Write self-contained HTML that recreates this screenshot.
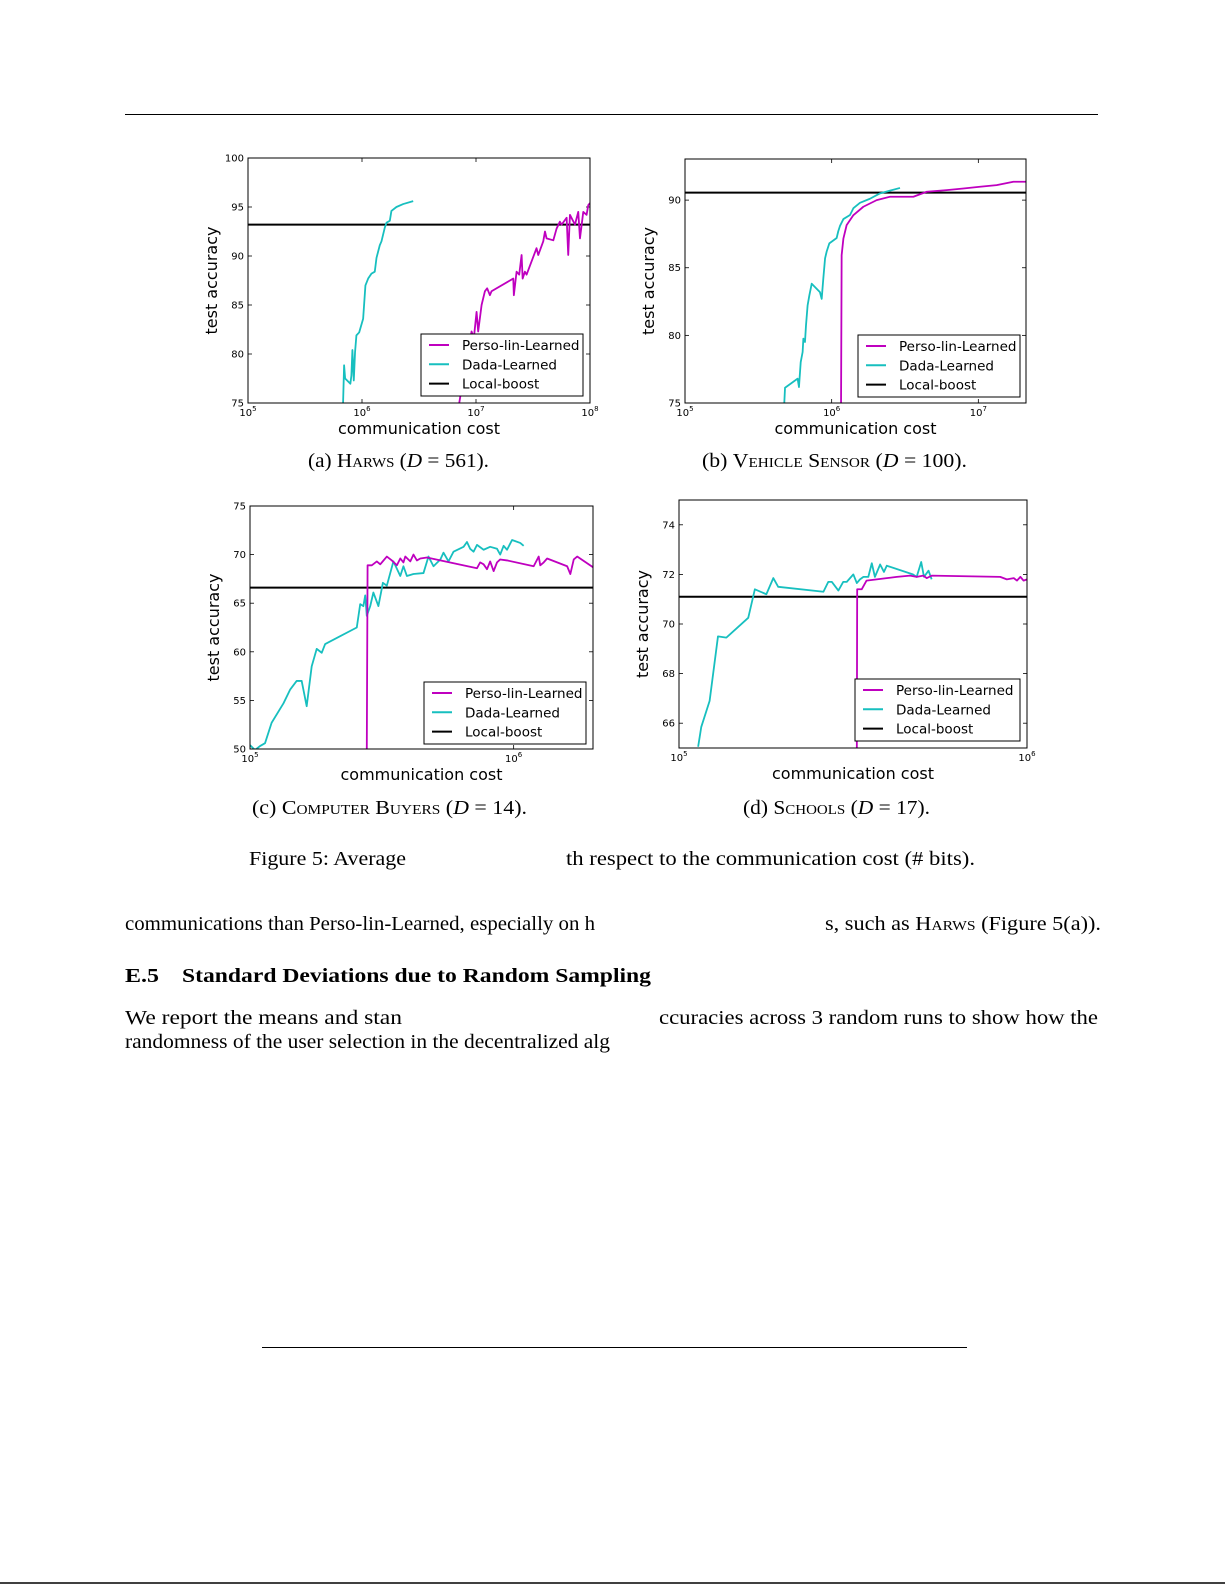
<!DOCTYPE html>
<html><head><meta charset="utf-8"><style>
html,body{margin:0;padding:0;background:#fff;}
svg{display:block;}
.tk{font-family:"DejaVu Sans","Liberation Sans",sans-serif;font-size:10px;fill:#000;}
.al{font-family:"DejaVu Sans","Liberation Sans",sans-serif;font-size:16px;fill:#000;}
.lg{font-family:"DejaVu Sans","Liberation Sans",sans-serif;font-size:13.5px;fill:#000;}
.tx{font-family:"Liberation Serif",serif;font-size:20px;fill:#000;}
</style></head><body>
<svg id="page" width="1225" height="1585" viewBox="0 0 1225 1585" xmlns="http://www.w3.org/2000/svg">
<line x1="125" y1="114.5" x2="1098" y2="114.5" stroke="#000" stroke-width="1"/>
<text class="tx" x="308" y="467" textLength="181" lengthAdjust="spacingAndGlyphs">(a) <tspan font-variant="small-caps">Harws</tspan> (<tspan font-style="italic">D</tspan> = 561).</text>
<text class="tx" x="702" y="467" textLength="265" lengthAdjust="spacingAndGlyphs">(b) <tspan font-variant="small-caps">Vehicle Sensor</tspan> (<tspan font-style="italic">D</tspan> = 100).</text>
<text class="tx" x="252" y="814" textLength="275" lengthAdjust="spacingAndGlyphs">(c) <tspan font-variant="small-caps">Computer Buyers</tspan> (<tspan font-style="italic">D</tspan> = 14).</text>
<text class="tx" x="743" y="814" textLength="187" lengthAdjust="spacingAndGlyphs">(d) <tspan font-variant="small-caps">Schools</tspan> (<tspan font-style="italic">D</tspan> = 17).</text>
<text class="tx" x="249" y="865" textLength="157" lengthAdjust="spacingAndGlyphs">Figure 5: Average</text>
<text class="tx" x="566" y="865" textLength="409" lengthAdjust="spacingAndGlyphs">th respect to the communication cost (# bits).</text>
<text class="tx" x="125" y="930" textLength="470" lengthAdjust="spacingAndGlyphs">communications than Perso-lin-Learned, especially on h</text>
<text class="tx" x="825" y="930" textLength="276" lengthAdjust="spacingAndGlyphs">s, such as <tspan font-variant="small-caps">Harws</tspan> (Figure 5(a)).</text>
<text class="tx" x="125" y="982" font-weight="bold" textLength="34" lengthAdjust="spacingAndGlyphs">E.5</text>
<text class="tx" x="182" y="982" font-weight="bold" textLength="469" lengthAdjust="spacingAndGlyphs">Standard Deviations due to Random Sampling</text>
<text class="tx" x="125" y="1024" textLength="277" lengthAdjust="spacingAndGlyphs">We report the means and stan</text>
<text class="tx" x="659" y="1024" textLength="439" lengthAdjust="spacingAndGlyphs">ccuracies across 3 random runs to show how the</text>
<text class="tx" x="125" y="1048" textLength="485" lengthAdjust="spacingAndGlyphs">randomness of the user selection in the decentralized alg</text>
<line x1="262" y1="1347.5" x2="967" y2="1347.5" stroke="#000" stroke-width="1"/>
<line x1="0" y1="1583" x2="1225" y2="1583" stroke="#000" stroke-width="1.5"/>
</svg>
<script>
// ---- data: chart a (Harws) ----
const aDadaX=[5.834,5.843,5.852,5.898,5.907,5.916,5.928,5.939,5.951,5.975,6.010,6.030,6.054,6.083,6.112,6.127,6.156,6.171,6.200,6.215,6.244,6.258,6.302,6.361,6.449];
const aDadaY=[75,78.85,77.5,76.97,77.8,80.4,77.3,80.2,81.9,82.2,83.6,87.0,87.7,88.2,88.4,89.8,91.1,91.5,92.9,93.4,93.6,94.6,95.0,95.3,95.6];
const aPersoX=[6.853,6.888,6.917,6.961,6.981,7.005,7.019,7.049,7.078,7.098,7.122,7.136,7.327,7.332,7.356,7.379,7.400,7.409,7.429,7.444,7.531,7.546,7.590,7.605,7.619,7.678,7.707,7.736,7.751,7.795,7.809,7.824,7.868,7.897,7.912,7.941,7.970,7.985,8.0];
const aPersoY=[75,77.5,79.2,82.3,81.6,84.3,82.3,85.0,86.4,86.7,86.0,86.4,87.7,86.0,88.4,88.1,90.1,87.7,88.4,88.1,90.8,90.1,91.5,92.5,91.8,91.6,92.8,93.5,93.2,93.9,90.1,94.2,93.2,94.5,91.8,94.5,94.2,95.2,95.4];
const aLocal=[93.2];
const aYTicks=[75,80,85,90,95,100];
const aXTicks=[5,6,7,8];
// ---- data: chart b (Vehicle Sensor) ----
const bDadaX=[5.677,5.682,5.768,5.777,5.789,5.802,5.807,5.818,5.825,5.836,5.848,5.864,5.920,5.932,5.943,5.955,5.966,5.984,6.034,6.045,6.057,6.080,6.125,6.148,6.193,6.261,6.330,6.398,6.466];
const bDadaY=[75,76.13,76.8,76.18,78.03,78.77,79.76,79.51,80.74,82.22,82.96,83.82,83.2,82.7,84.2,85.7,86.2,86.8,87.2,87.7,88.1,88.6,88.9,89.4,89.8,90.1,90.5,90.7,90.9];
const bPersoX=[6.064,6.068,6.080,6.102,6.148,6.216,6.307,6.398,6.557,6.648,6.784,6.898,7.011,7.125,7.239,7.325];
const bPersoY=[75,85.93,87.16,88.15,88.89,89.51,90.0,90.25,90.25,90.62,90.74,90.86,90.99,91.11,91.36,91.36];
const bLocal=[90.55];
const bYTicks=[75,80,85,90];
const bXTicks=[5,6,7];
// ---- data: chart c (Computer Buyers) ----
const cDadaX=[5.000,5.019,5.038,5.057,5.082,5.127,5.152,5.177,5.196,5.215,5.234,5.253,5.272,5.285,5.405,5.418,5.430,5.437,5.443,5.456,5.468,5.487,5.504,5.519,5.544,5.570,5.582,5.595,5.620,5.658,5.677,5.696,5.722,5.734,5.753,5.772,5.810,5.823,5.835,5.848,5.861,5.886,5.911,5.937,5.949,5.962,5.975,5.994,6.025,6.038];
const cDadaY=[50.4,49.9,50.3,50.6,52.7,54.7,56.1,57.0,57.0,54.4,58.5,60.3,59.9,60.8,62.5,64.9,64.7,65.8,63.7,64.7,66.1,64.7,67.1,66.8,69.3,67.8,68.8,67.8,68.0,68.1,69.8,68.8,69.5,70.2,69.3,70.3,70.8,71.3,70.6,70.3,71.0,70.5,70.8,70.6,70.0,70.9,70.5,71.5,71.2,70.9];
const cPersoX=[5.443,5.446,5.462,5.481,5.494,5.519,5.538,5.557,5.570,5.582,5.589,5.608,5.620,5.633,5.646,5.671,5.861,5.873,5.886,5.899,5.911,5.924,5.937,5.949,5.975,6.076,6.095,6.101,6.114,6.127,6.203,6.215,6.228,6.241,6.301];
const cPersoY=[50,68.9,68.9,69.3,69.0,69.8,69.4,68.9,69.6,69.2,69.8,69.3,70.0,69.4,69.6,69.7,68.6,69.2,69.0,68.5,69.3,68.3,69.2,69.5,69.4,68.8,69.8,68.9,69.2,69.6,68.8,68.0,69.5,69.8,68.7];
const cLocal=[66.6];
const cYTicks=[50,55,60,65,70,75];
const cXTicks=[5,6];
// ---- data: chart d (Schools) ----
const dDadaX=[5.055,5.064,5.088,5.112,5.136,5.199,5.218,5.251,5.271,5.285,5.415,5.429,5.439,5.458,5.472,5.482,5.501,5.511,5.520,5.530,5.544,5.554,5.563,5.578,5.589,5.597,5.672,5.683,5.696,5.704,5.717,5.726];
const dDadaY=[65.05,65.85,66.9,69.5,69.45,70.25,71.4,71.2,71.85,71.5,71.3,71.7,71.7,71.35,71.7,71.7,72.0,71.65,71.8,71.9,71.9,72.45,71.9,72.4,72.1,72.35,72.0,71.9,72.5,71.9,72.15,71.8];
const dPersoX=[5.511,5.512,5.525,5.539,5.568,5.597,5.626,5.664,5.683,5.702,5.712,5.726,5.923,5.942,5.962,5.971,5.981,5.990,6.0];
const dPersoY=[65.0,71.4,71.4,71.75,71.8,71.85,71.9,71.95,71.9,71.95,71.85,71.95,71.9,71.8,71.85,71.75,71.9,71.75,71.8];
const dLocal=[71.1];
const dYTicks=[66,68,70,72,74];
const dXTicks=[5,6];

const NS='http://www.w3.org/2000/svg';
const svg=document.getElementById('page');
function mk(tag,attrs,parent){const e=document.createElementNS(NS,tag);for(const k in attrs)e.setAttribute(k,attrs[k]);(parent||svg).appendChild(e);return e;}

const charts=[
 {id:'a',L:248,R:590,T:158,B:403,x0:5,x1:8,y0:75,y1:100,yt:aYTicks,xt:aXTicks,dx:aDadaX,dy:aDadaY,px:aPersoX,py:aPersoY,loc:aLocal,lg:[421,334],lgw:162},
 {id:'b',L:685,R:1026,T:159,B:403,x0:5,x1:7.325,y0:75,y1:93.04,yt:bYTicks,xt:bXTicks,dx:bDadaX,dy:bDadaY,px:bPersoX,py:bPersoY,loc:bLocal,lg:[858,335],lgw:162},
 {id:'c',L:250,R:593,T:506,B:749,x0:5,x1:6.301,y0:50,y1:75,yt:cYTicks,xt:cXTicks,dx:cDadaX,dy:cDadaY,px:cPersoX,py:cPersoY,loc:cLocal,lg:[424,682],lgw:162},
 {id:'d',L:679,R:1027,T:500,B:748,x0:5,x1:6,y0:65,y1:75,yt:dYTicks,xt:dXTicks,dx:dDadaX,dy:dDadaY,px:dPersoX,py:dPersoY,loc:dLocal,lg:[855,679],lgw:165}
];

charts.forEach(c=>{
 const sx=v=>c.L+(v-c.x0)/(c.x1-c.x0)*(c.R-c.L);
 const sy=v=>c.B-(v-c.y0)/(c.y1-c.y0)*(c.B-c.T);
 const g=mk('g',{});
 
 
 const cp=mk('clipPath',{id:'clip'+c.id},g);
 mk('rect',{x:c.L,y:c.T,width:c.R-c.L,height:c.B-c.T},cp);
 c.yt.forEach(v=>{
  const y=sy(v);
  const t1=mk('line',{x1:c.L,y1:y,x2:c.L+4,y2:y,stroke:'#000','stroke-width':0.8},g);
  
  
  mk('line',{x1:c.R,y1:y,x2:c.R-4,y2:y,stroke:'#000','stroke-width':0.8},g);
  const tl=mk('text',{x:c.L-4,y:y+3.5,'text-anchor':'end',class:'tk'},g);
  tl.textContent=String(v);
  
  
 });
 c.xt.forEach(v=>{
  const x=sx(v);
  mk('line',{x1:x,y1:c.B,x2:x,y2:c.B-4,stroke:'#000','stroke-width':0.8},g);
  mk('line',{x1:x,y1:c.T,x2:x,y2:c.T+4,stroke:'#000','stroke-width':0.8},g);
  const tl=mk('text',{x:x,y:c.B+13,'text-anchor':'middle',class:'tk'},g);
  tl.innerHTML='10<tspan dy="-5" font-size="7">'+v+'</tspan>';
  
  
 });
 const path=(xs,ys)=>xs.map((v,i)=>(i?'L':'M')+sx(v).toFixed(2)+','+sy(ys[i]).toFixed(2)).join(' ');
 const lb=mk('line',{x1:c.L,y1:sy(c.loc[0]),x2:c.R,y2:sy(c.loc[0]),stroke:'#000','stroke-width':2,'clip-path':'url(#clip'+c.id+')'},g);
 
 
 const pd=mk('path',{d:path(c.dx,c.dy),fill:'none',stroke:'#17bfbf','stroke-width':1.8,'stroke-linejoin':'round','clip-path':'url(#clip'+c.id+')'},g);
 
 
 const pp=mk('path',{d:path(c.px,c.py),fill:'none',stroke:'#bf00bf','stroke-width':1.8,'stroke-linejoin':'round','clip-path':'url(#clip'+c.id+')'},g);
 
 
 const fr=mk('rect',{x:c.L,y:c.T,width:c.R-c.L,height:c.B-c.T,fill:'none',stroke:'#000','stroke-width':1},g);
 
 
 const xl=mk('text',{x:(c.L+c.R)/2,y:c.B+31,'text-anchor':'middle',class:'al'},g);
 xl.textContent='communication cost';
 
 
 const yx=c.L-31,yy=(c.T+c.B)/2;
 const yl=mk('text',{x:yx,y:yy,'text-anchor':'middle',class:'al',transform:'rotate(-90 '+yx+' '+yy+')'},g);
 yl.textContent='test accuracy';
 
 
 const [lx,ly]=c.lg;
 const lgG=mk('g',{},g);
 
 
 mk('rect',{x:lx,y:ly,width:c.lgw,height:62,fill:'#fff',stroke:'#000','stroke-width':1},lgG);
 const ents=[['Perso-lin-Learned','#bf00bf'],['Dada-Learned','#17bfbf'],['Local-boost','#000']];
 ents.forEach((en,i)=>{
  const yy2=ly+11+i*19.3;
  const eg=mk('g',{},lgG);
  
  
  mk('line',{x1:lx+8,y1:yy2,x2:lx+28,y2:yy2,stroke:en[1],'stroke-width':2},eg);
  const t=mk('text',{x:lx+41,y:yy2+5,class:'lg'},eg);
  t.textContent=en[0];
 });
});
</script>
</body></html>
